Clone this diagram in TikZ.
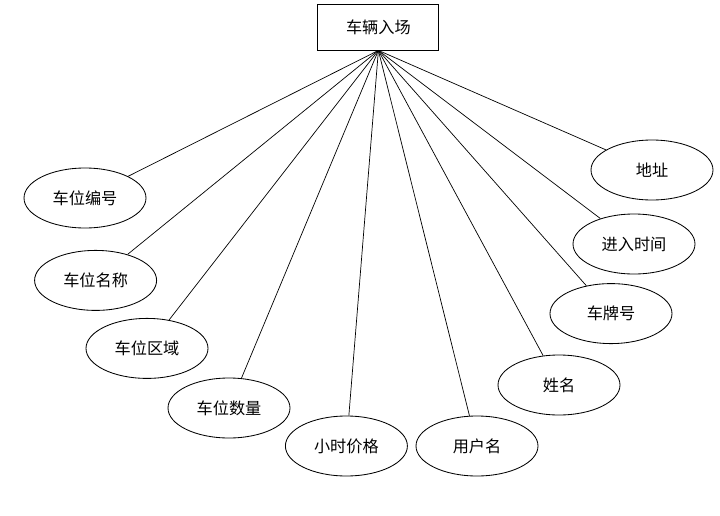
\documentclass[tikz,border=0pt]{standalone}
\usepackage{fontspec}
\usepackage{tikz}
\usetikzlibrary{shapes.geometric, positioning}
\newfontfamily\cjk{Noto Sans CJK SC}
\tikzset{
  entity/.style={rectangle, draw=black, fill=white,
    minimum width=3.025cm, minimum height=1.15cm,
    font=\cjk\fontsize{11.5}{14}\selectfont, line width=0.6pt},
  attr/.style={ellipse, draw=black, fill=white,
    minimum width=3.05cm, minimum height=1.5cm, inner sep=0pt,
    font=\cjk\fontsize{11.5}{14}\selectfont, line width=0.6pt},
  line/.style={line width=0.5pt, color=black}
}
\begin{document}
\begin{tikzpicture}
  \useasboundingbox (0,0) rectangle (18,-12.9);
  % Entity
  \node[entity] (car) at (9.46,-0.675) {车辆入场};

  % Attributes, left side
  \node[attr] (bh) at (2.125,-4.95) {车位编号};
  \node[attr] (mc) at (2.39,-7.01) {车位名称};
  \node[attr] (qy) at (3.675,-8.71) {车位区域};
  \node[attr] (sl) at (5.725,-10.2) {车位数量};
  \node[attr] (jg) at (8.66,-11.15) {小时价格};

  % Attributes, right side
  \node[attr] (yh) at (11.925,-11.15) {用户名};
  \node[attr] (xm) at (13.975,-9.625) {姓名};
  \node[attr] (cp) at (15.275,-7.84) {车牌号};
  \node[attr] (sj) at (15.85,-6.1) {进入时间};
  \node[attr] (dz) at (16.3,-4.25) {地址};

  % Connections
  \foreach \a in {bh,mc,qy,sl,jg,yh,xm,cp,sj,dz}
    \draw[line] (car.south) -- (\a);
\end{tikzpicture}
\end{document}
